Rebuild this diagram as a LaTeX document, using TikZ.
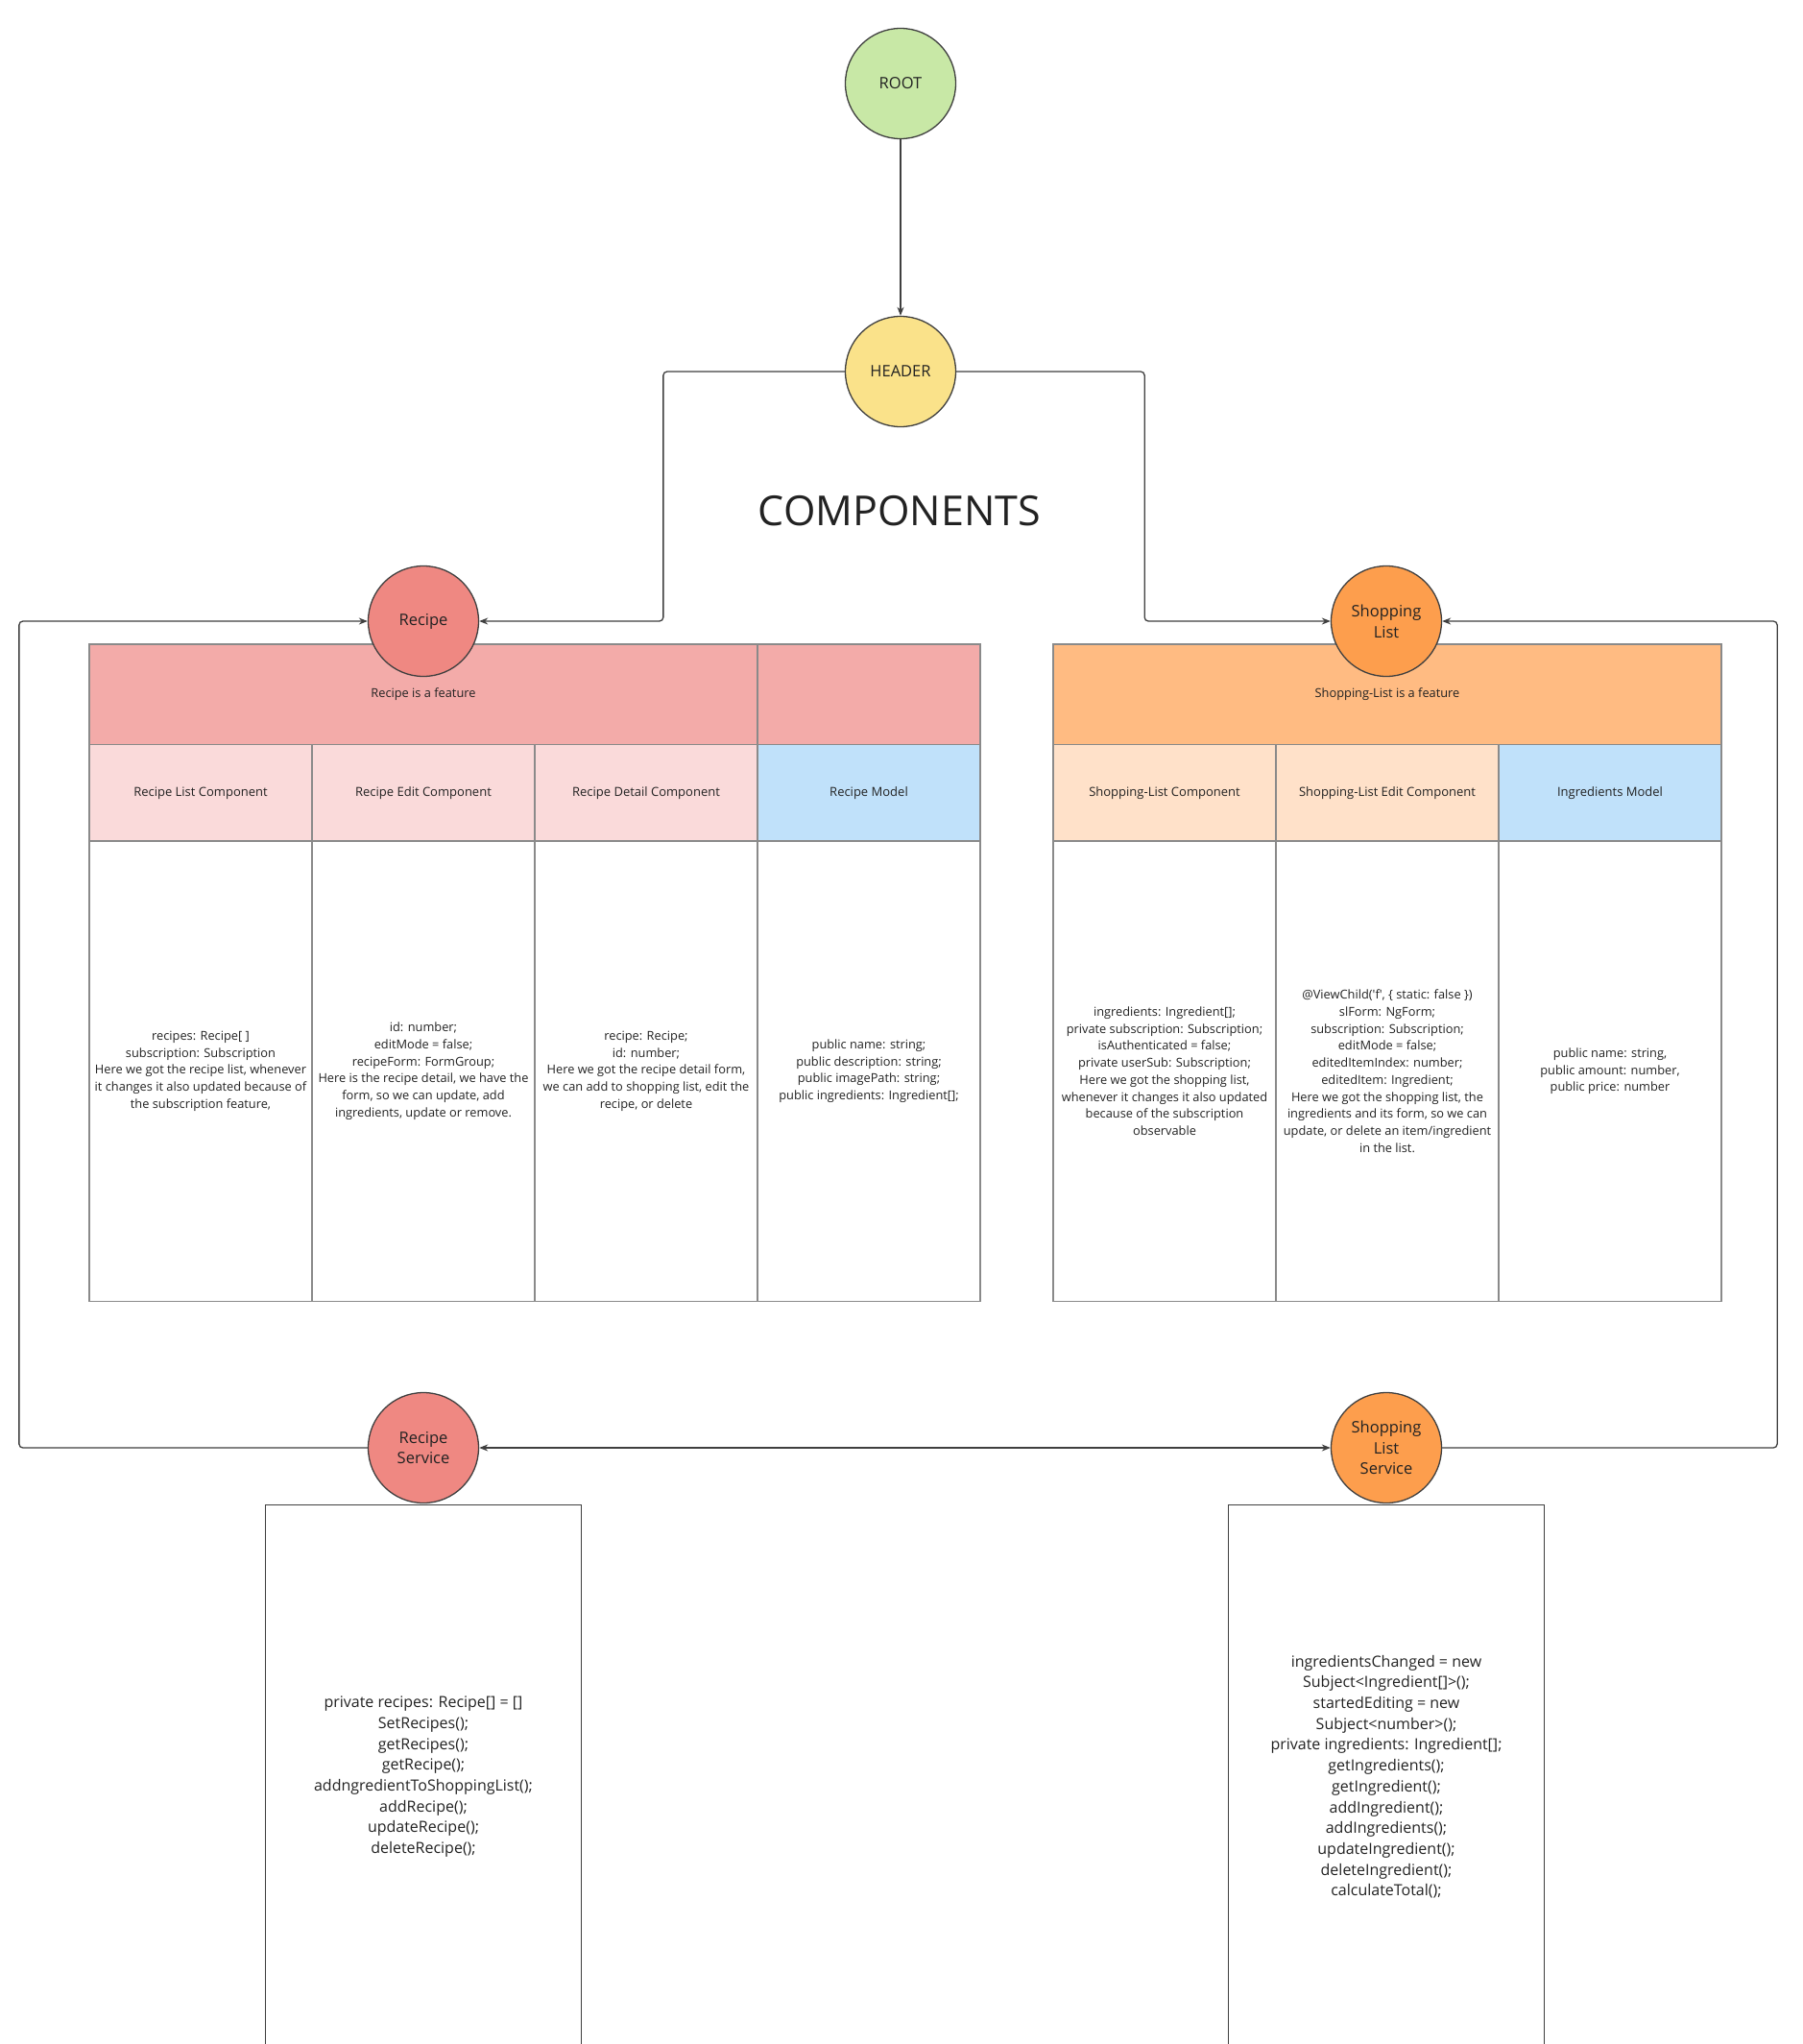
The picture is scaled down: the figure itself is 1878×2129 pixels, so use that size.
\documentclass[tikz,border=0pt]{standalone}
\usepackage{fontspec}
\setmainfont{Open Sans}
\usepackage{xcolor}
\usepackage{tikz}
\usetikzlibrary{arrows.meta}
\usetikzlibrary{positioning}
\definecolor{rootgreen}{HTML}{C8E8A6}
\definecolor{headyellow}{HTML}{FAE28A}
\definecolor{recipered}{HTML}{EF8882}
\definecolor{shoporange}{HTML}{FD9E4D}
\definecolor{recipehead}{HTML}{F3ABA9}
\definecolor{recipesub}{HTML}{FADADA}
\definecolor{shophead}{HTML}{FFBB82}
\definecolor{shopsub}{HTML}{FFE1C9}
\definecolor{modelblue}{HTML}{C0E1FA}
\definecolor{linedark}{HTML}{3F3F3F}
\definecolor{cellgray}{HTML}{8A8A8A}
\definecolor{textdark}{HTML}{222222}
\tikzset{hub/.style={draw=linedark, circle, minimum size=115pt, inner sep=0pt, line width=1.3pt, align=center, text=textdark, font=\fontsize{16.5}{21.7}\selectfont}}
\tikzset{cell/.style={draw=cellgray, minimum width=232pt, inner sep=3pt, outer sep=0pt, line width=1.2pt, align=center, text=textdark, font=\fontsize{12.8}{17.7}\selectfont}}
\tikzset{featrow/.style={cell, minimum height=104.6pt}}
\tikzset{namerow/.style={cell, minimum height=100.4pt, font=\fontsize{13}{17.7}\selectfont}}
\tikzset{bodyrow/.style={cell, minimum height=479.4pt, fill=white}}
\tikzset{svcbox/.style={draw=linedark, minimum width=328.6pt, minimum height=566pt, line width=1.3pt, outer sep=0pt, align=center, text=textdark, font=\fontsize{16}{21.7}\selectfont}}
\tikzset{conn/.style={draw=linedark, line width=1.3pt, rounded corners=4pt}}
\tikzset{tip/.style={-{Stealth[length=9pt, width=7pt]}}}
\begin{document}
\begin{tikzpicture}[x=1pt, y=-1pt]
\useasboundingbox (0,0) rectangle (1878,2129);
\clip (0,0) rectangle (1878,2129);

\node[featrow, fill=recipehead, minimum width=696pt, anchor=north west] (rfeat) at (93,671) {Recipe is a feature};
\node[featrow, fill=recipehead, right=0pt of rfeat] (rfeatx) {};
\node[namerow, fill=recipesub, anchor=north west] (rlist) at (rfeat.south west) {Recipe List Component};
\node[namerow, fill=recipesub, right=0pt of rlist] (redit) {Recipe Edit Component};
\node[namerow, fill=recipesub, right=0pt of redit] (rdetail) {Recipe Detail Component};
\node[namerow, fill=modelblue, right=0pt of rdetail] (rmodel) {Recipe Model};
\node[bodyrow, below=0pt of rlist] (rlistbody) {recipes: Recipe[ ]\\subscription: Subscription\\Here we got the recipe list, whenever\\it changes it also updated because of\\the subscription feature,};
\node[bodyrow, below=0pt of redit] (reditbody) {id: number;\\editMode = false;\\recipeForm: FormGroup;\\Here is the recipe detail, we have the\\form, so we can update, add\\ingredients, update or remove.};
\node[bodyrow, below=0pt of rdetail] (rdetailbody) {recipe: Recipe;\\id: number;\\Here we got the recipe detail form,\\we can add to shopping list, edit the\\recipe, or delete};
\node[bodyrow, below=0pt of rmodel] (rmodelbody) {public name: string;\\public description: string;\\public imagePath: string;\\public ingredients: Ingredient[];};

\node[featrow, fill=shophead, minimum width=696pt, anchor=north west] (sfeat) at (1097,671) {Shopping-List is a feature};
\node[namerow, fill=shopsub, anchor=north west] (slist) at (sfeat.south west) {Shopping-List Component};
\node[namerow, fill=shopsub, right=0pt of slist] (sedit) {Shopping-List Edit Component};
\node[namerow, fill=modelblue, right=0pt of sedit] (smodel) {Ingredients Model};
\node[bodyrow, below=0pt of slist] (slistbody) {ingredients: Ingredient[];\\private subscription: Subscription;\\isAuthenticated = false;\\private userSub: Subscription;\\Here we got the shopping list,\\whenever it changes it also updated\\because of the subscription\\observable};
\node[bodyrow, below=0pt of sedit] (seditbody) {@ViewChild(\textquotesingle f\textquotesingle, \{ static: false \})\\slForm: NgForm;\\subscription: Subscription;\\editMode = false;\\editedItemIndex: number;\\editedItem: Ingredient;\\Here we got the shopping list, the\\ingredients and its form, so we can\\update, or delete an item/ingredient\\in the list.};
\node[bodyrow, below=0pt of smodel] (smodelbody) {public name: string,\\public amount: number,\\public price: number};

\node[hub, fill=rootgreen] (root) at (938,87) {ROOT};
\node[hub, fill=headyellow] (header) at (938,387) {HEADER};
\node[text=textdark, font=\fontsize{43}{50}\selectfont] (title) at (937,532) {COMPONENTS};
\node[hub, fill=recipered] (recipe) at (441,647) {Recipe};
\node[hub, fill=shoporange] (shop) at (1444,647) {Shopping\\List};
\node[hub, fill=recipered] (rsvc) at (441,1508) {Recipe\\Service};
\node[hub, fill=shoporange] (ssvc) at (1444,1508) {Shopping\\List\\Service};
\node[svcbox, anchor=north] (rsvcbox) at ([yshift=-1.5pt]rsvc.south) {private recipes: Recipe[] = []\\SetRecipes();\\getRecipes();\\getRecipe();\\addngredientToShoppingList();\\addRecipe();\\updateRecipe();\\deleteRecipe();};
\node[svcbox, anchor=north] (ssvcbox) at ([yshift=-1.5pt]ssvc.south) {ingredientsChanged = new\\Subject<Ingredient[]>();\\startedEditing = new\\Subject<number>();\\private ingredients: Ingredient[];\\getIngredients();\\getIngredient();\\addIngredient();\\addIngredients();\\updateIngredient();\\deleteIngredient();\\calculateTotal();};

\draw[conn, tip] (root) -- (header);
\draw[conn, tip] (header.west) -- ++(-189,0) |- (recipe.east);
\draw[conn, tip] (header.east) -- ++(196,0) |- (shop.west);
\draw[conn, tip] (rsvc.west) -- ++(-363,0) |- (recipe.west);
\draw[conn, tip] (ssvc.east) -- ++(349,0) |- (shop.east);
\draw[conn, {Stealth[length=9pt, width=7pt]}-{Stealth[length=9pt, width=7pt]}] (rsvc.east) -- (ssvc.west);
\end{tikzpicture}
\end{document}
